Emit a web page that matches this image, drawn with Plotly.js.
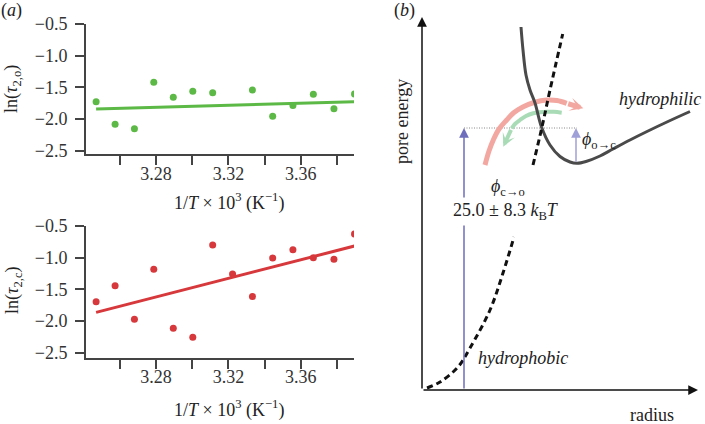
<!DOCTYPE html>
<html><head><meta charset="utf-8">
<script src="https://cdn.plot.ly/plotly-3.0.1.min.js"></script>
<style>html,body{margin:0;padding:0;background:#fff}#chart{width:705px;height:424px}</style>
</head><body><div id="chart"></div>
<script>
// ---- panel (a) data ----
const invT = [3.2468,3.2573,3.2680,3.2787,3.2895,3.3003,3.3113,3.3223,3.3333,3.3445,3.3557,3.3670,3.3784,3.3898];
const lnTauO = [-1.726,-2.084,-2.153,-1.421,-1.658,-1.563,-1.584,null,-1.542,-1.958,-1.789,-1.611,-1.837,-1.605];
const lnTauC = [-1.695,-1.442,-1.974,-1.184,-2.116,-2.258,-0.800,-1.258,-1.611,-1.005,-0.874,-1.000,-1.026,-0.626];
const fitX = [3.2468, 3.3898];
const fitO = [-1.842, -1.726];
const fitC = [-1.863, -0.816];
const xTickVals = [3.26,3.28,3.30,3.32,3.34,3.36,3.38];
const xLabelVals = [3.28,3.32,3.36];
const xLabelText = ['3.28','3.32','3.36'];
const yTickVals = [-2.5,-2.0,-1.5,-1.0,-0.5];
const yTickText = ['\u22122.5','\u22122.0','\u22121.5','\u22121.0','\u22120.5'];

// ---- panel (b) schematic data (radius, pore energy in arbitrary units) ----
const philR = [99,101,104,108,113,119.5,128,138,148,155,164,178,191,208,225,246,268];
const philE = [363,340,315,300,287,263,245,233.5,228,226.7,228.5,234,241,250,258.5,268.5,278.5];
const phobR = [5,18,36,48,68,81,92,null,111,119.7,128,140.7];
const phobE = [2,8,23,42,80,117,153,null,225,261.7,300,356];
const pinkR = [63,67,71.3,77,84.7,92,101.3,112,124.7,135,144.7];
const pinkE = [225,239,250,261,270,277.5,283.3,287.5,290,289.5,286.7];
const pinkHead = [161.3,281.7];
const greenR = [139.7,132,124.7,118,111.3,104,98,93,89.7];
const greenE = [277.3,278.2,278.3,277.8,276.7,274,270,266,261.7];
const greenHead = [81.3,243.3];
const barrierE = 262;     // level of barrier (dotted line)
const closedR = 42;       // position of closed-state arrow
const openR = 154;        // hydrophilic minimum
const openE = 226.7;
const axisTop = 373, axisRight = 276;

const SERIF = 'Liberation Serif, Times New Roman, serif';
const GREEN = '#5cb946', RED = '#d7383b';
const PX = x => x/705, PY = y => 1 - y/424;

const traces = [
  {x: invT, y: lnTauO, mode:'markers', type:'scatter', marker:{color:GREEN, size:7}, xaxis:'x', yaxis:'y'},
  {x: fitX, y: fitO, mode:'lines', type:'scatter', line:{color:GREEN, width:3}, xaxis:'x', yaxis:'y'},
  {x: invT, y: lnTauC, mode:'markers', type:'scatter', marker:{color:RED, size:7}, xaxis:'x2', yaxis:'y2'},
  {x: fitX, y: fitC, mode:'lines', type:'scatter', line:{color:RED, width:3}, xaxis:'x2', yaxis:'y2'},
  {x: [], y: [], mode:'markers', xaxis:'x4', yaxis:'y'},
  {x: [], y: [], mode:'markers', xaxis:'x5', yaxis:'y2'},
  // panel b
  {x: [closedR, openR+1], y: [barrierE, barrierE], mode:'lines', line:{color:'#888', width:1, dash:'1px,1.5px'}, xaxis:'x3', yaxis:'y3'},
  {x: greenR, y: greenE, mode:'lines', line:{color:'#a9dcb6', width:4, shape:'spline'}, xaxis:'x3', yaxis:'y3'},
  {x: pinkR, y: pinkE, mode:'lines', line:{color:'#f3a7a1', width:5, shape:'spline'}, xaxis:'x3', yaxis:'y3'},
  {x: philR, y: philE, mode:'lines', line:{color:'#4a4a4a', width:3, shape:'spline', smoothing:1}, xaxis:'x3', yaxis:'y3'},
  {x: phobR, y: phobE, mode:'lines', connectgaps:false, line:{color:'#111', width:3, dash:'6px,4px', shape:'spline'}, xaxis:'x3', yaxis:'y3'}
];

const axA = (extra) => Object.assign({
  showline:true, linecolor:'#444', linewidth:2, ticks:'outside', ticklen:9, tickwidth:2, tickcolor:'#444',
  showgrid:false, zeroline:false, fixedrange:true,
  tickfont:{family:SERIF, size:18, color:'#333'}
}, extra);
// label-only axis for the x tick labels (sits a little closer to the axis line)
const xLab = (over, anchor) => ({overlaying:over, anchor:anchor, matches:over, range:[3.2412, 3.3895],
  showline:false, showgrid:false, zeroline:false, fixedrange:true,
  ticks:'outside', ticklen:3, tickcolor:'rgba(0,0,0,0)', tickvals:xLabelVals, ticktext:xLabelText,
  tickfont:{family:SERIF, size:18, color:'#333'}});

const ann = [];
function txt(x, y, text, o) {
  ann.push(Object.assign({xref:'paper', yref:'paper', x:PX(x), y:PY(y), text:text, showarrow:false,
    font:{family:SERIF, size:18, color:'#222'}, xanchor:'center', yanchor:'middle'}, o||{}));
}
txt(11, 11, '(<i>a</i>)');
txt(13, 89, 'ln(<i>\u03c4</i><sub>2,o</sub>)', {textangle:-90});
txt(13, 290, 'ln(<i>\u03c4</i><sub>2,c</sub>)', {textangle:-90});
txt(229, 202, '1/<i>T</i> \u00d7 10<sup>3</sup> (K<sup>\u22121</sup>)');
txt(229, 409, '1/<i>T</i> \u00d7 10<sup>3</sup> (K<sup>\u22121</sup>)');
txt(404, 10, '(<i>b</i>)');
txt(402, 122, 'pore energy', {textangle:-90});
txt(652, 415, 'radius');

function arrow(head, tail, color, width, headType, size) {
  ann.push({xref:'x3', yref:'y3', axref:'x3', ayref:'y3', x:head[0], y:head[1], ax:tail[0], ay:tail[1],
    text:'', showarrow:true, arrowcolor:color, arrowwidth:width, arrowhead:headType, arrowsize:size});
}
// axes of panel b
arrow([0, axisTop], [0, 0], '#111', 1.5, 2, 1.3);
arrow([axisRight, 0], [0, 0], '#111', 1.5, 2, 1.3);
// energy arrows
arrow([closedR, barrierE], [closedR, 0], '#6e6ebd', 1.5, 2, 1.3);
arrow([openR, barrierE], [openR, openE], '#a0a0d8', 1.5, 2, 1.3);
// curved arrow heads
arrow(pinkHead, [pinkR[pinkR.length-1], pinkE[pinkE.length-1]], '#f3a7a1', 5, 3, 0.45);
arrow(greenHead, [greenR[greenR.length-1], greenE[greenE.length-1]], '#a9dcb6', 4, 3, 0.55);

function btxt(r, e, text, o) {
  ann.push(Object.assign({xref:'x3', yref:'y3', x:r, y:e, text:text, showarrow:false,
    font:{family:SERIF, size:18, color:'#222'}, xanchor:'center', yanchor:'middle'}, o||{}));
}
btxt(238, 291, '<i>hydrophilic</i>');
btxt(101, 32, '<i>hydrophobic</i>');
btxt(158, 250, '<i>\u03d5</i><sub>o\u2192c</sub>', {xanchor:'left'});
btxt(84, 179, '25.0 \u00b1 8.3 <i>k</i><sub>B</sub><i>T</i>', {bgcolor:'#fff', borderpad:2});
btxt(86, 203, '<i>\u03d5</i><sub>c\u2192o</sub>');

const layout = {
  width:705, height:424, margin:{l:0,r:0,t:0,b:0}, paper_bgcolor:'#fff', plot_bgcolor:'rgba(0,0,0,0)',
  showlegend:false, font:{family:SERIF},
  xaxis: axA({domain:[PX(86), PX(354)], anchor:'y', range:[3.2412, 3.3895], tickvals:xTickVals, showticklabels:false}),
  yaxis: axA({domain:[PY(154), PY(24)], anchor:'x', range:[-2.553, -0.5], tickvals:yTickVals, ticktext:yTickText, ticklabelstandoff:4}),
  xaxis2: axA({domain:[PX(86), PX(354)], anchor:'y2', range:[3.2412, 3.3895], tickvals:xTickVals, showticklabels:false}),
  yaxis2: axA({domain:[PY(357.7), PY(226)], anchor:'x2', range:[-2.579, -0.5], tickvals:yTickVals, ticktext:yTickText, ticklabelstandoff:4}),
  xaxis4: xLab('x', 'y'),
  xaxis5: xLab('x2', 'y2'),
  xaxis3: {domain:[PX(422), 1], anchor:'y3', range:[0, 283], visible:false, fixedrange:true},
  yaxis3: {domain:[PY(390), 1], anchor:'x3', range:[0, 390], visible:false, fixedrange:true},
  annotations: ann
};
Plotly.newPlot('chart', traces, layout, {displayModeBar:false, staticPlot:true});
</script></body></html>
